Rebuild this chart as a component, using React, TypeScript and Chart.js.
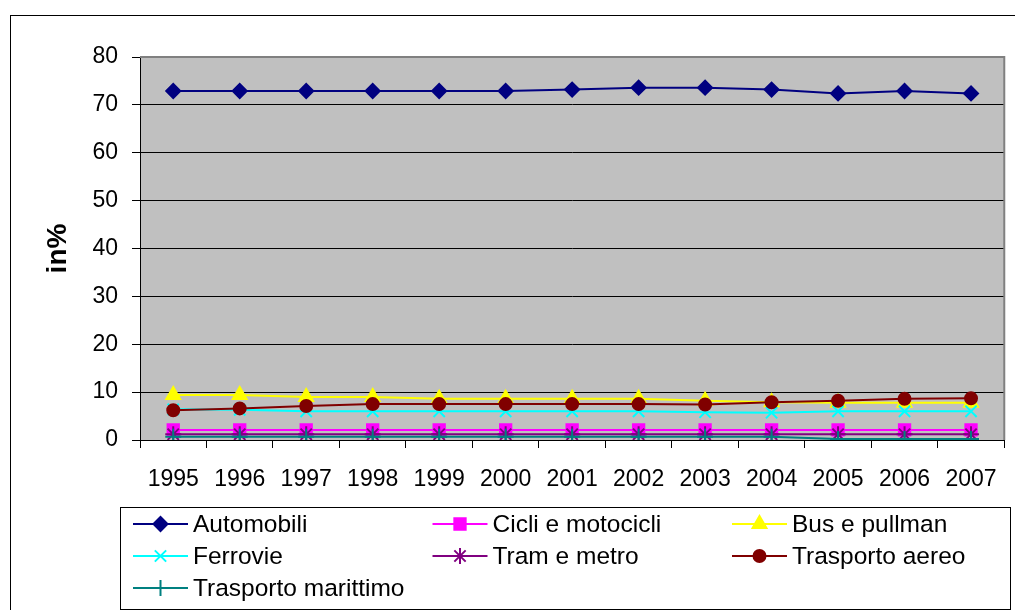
import React, { useEffect, useRef } from "react";
import { Chart, registerables } from "chart.js";
import { drawPoint } from "chart.js/helpers";

Chart.register(...registerables);

const years = ["1995", "1996", "1997", "1998", "1999", "2000", "2001", "2002", "2003", "2004", "2005", "2006", "2007"];
const automobili = [72.9, 72.9, 72.9, 72.9, 72.9, 72.9, 73.2, 73.6, 73.6, 73.2, 72.4, 72.9, 72.4];
const cicli = [2.1, 2.1, 2.1, 2.1, 2.1, 2.1, 2.1, 2.1, 2.1, 2.1, 2.1, 2.1, 2.1];
const bus = [9.4, 9.4, 9.0, 9.0, 8.6, 8.6, 8.6, 8.6, 8.2, 7.9, 7.8, 7.8, 7.8];
const ferrovie = [6.4, 6.3, 6.0, 6.0, 6.0, 6.0, 6.0, 6.0, 5.8, 5.7, 6.0, 6.0, 6.0];
const tram = [1.2, 1.2, 1.2, 1.2, 1.2, 1.2, 1.2, 1.2, 1.2, 1.2, 1.2, 1.2, 1.2];
const aereo = [6.2, 6.6, 7.1, 7.5, 7.5, 7.5, 7.5, 7.5, 7.4, 7.9, 8.2, 8.6, 8.7];
const marittimo = [0.7, 0.7, 0.7, 0.7, 0.7, 0.7, 0.7, 0.7, 0.7, 0.7, 0.2, 0.2, 0.2];

const seriesNames = ["Automobili", "Cicli e motocicli", "Bus e pullman", "Ferrovie", "Tram e metro", "Trasporto aereo", "Trasporto marittimo"];
const seriesValues = [automobili, cicli, bus, ferrovie, tram, aereo, marittimo];
const seriesColors = ["#000080", "#FF00FF", "#FFFF00", "#00FFFF", "#800080", "#800000", "#008080"];
const seriesMarkers = ["rectRot", "rect", "triangle", "crossRot", "star", "circle", "cross"];
const markerSizes = [7, 8, 8, 8, 8, 6, 8];
const yTicks = [0, 10, 20, 30, 40, 50, 60, 70, 80];
const yTitle = "in%";

const FONT = '"Liberation Sans", Arial, sans-serif';

const framePlugin = {
  id: "frame",
  beforeDraw(chart: any) {
    const { ctx, chartArea: a } = chart;
    ctx.save();
    ctx.fillStyle = "#ffffff";
    ctx.fillRect(0, 0, chart.width, chart.height);
    ctx.fillStyle = "#C0C0C0";
    ctx.fillRect(a.left, a.top, a.right - a.left, a.bottom - a.top);
    ctx.restore();
  },
  beforeDatasetsDraw(chart: any) {
    const { ctx, chartArea: a } = chart;
    ctx.save();
    ctx.strokeStyle = "#808080";
    ctx.lineWidth = 2;
    ctx.beginPath();
    ctx.moveTo(a.left, a.top);
    ctx.lineTo(a.right, a.top);
    ctx.lineTo(a.right, a.bottom);
    ctx.stroke();
    ctx.restore();
  },
  afterDraw(chart: any) {
    const { ctx } = chart;
    ctx.save();
    ctx.strokeStyle = "#000000";
    ctx.lineWidth = 1;
    ctx.strokeRect(10.5, 15.5, 1020, 610);
    // legend
    ctx.strokeRect(120.5, 507.5, 890, 102);
    chart.data.datasets.forEach((ds: any, i: number) => {
      const col = i % 3;
      const row = Math.floor(i / 3);
      const x0 = 133 + col * 299.5;
      const y = 524 + row * 32;
      ctx.strokeStyle = ds.borderColor;
      ctx.lineWidth = 2;
      ctx.beginPath();
      ctx.moveTo(x0, y);
      ctx.lineTo(x0 + 55, y);
      ctx.stroke();
      ctx.fillStyle = ds.pointBackgroundColor;
      ctx.strokeStyle = ds.pointBorderColor;
      ctx.lineWidth = ds.pointBorderWidth;
      drawPoint(ctx, { pointStyle: ds.pointStyle, radius: ds.pointRadius, borderWidth: ds.pointBorderWidth, rotation: 0 }, x0 + 27.5, y);
      ctx.fillStyle = "#000000";
      ctx.font = "24.5px " + FONT;
      ctx.textBaseline = "middle";
      ctx.textAlign = "left";
      ctx.fillText(ds.label, x0 + 60, y + 1);
    });
    ctx.restore();
  },
};

export default function App() {
  const ref = useRef<HTMLCanvasElement | null>(null);
  useEffect(() => {
    if (!ref.current) return;
    const datasets = seriesNames.map((name, i) => ({
      label: name,
      data: seriesValues[i],
      borderColor: seriesColors[i],
      backgroundColor: seriesColors[i],
      pointBackgroundColor: seriesColors[i],
      pointBorderColor: seriesColors[i],
      pointBorderWidth: 2,
      pointStyle: seriesMarkers[i],
      pointRadius: markerSizes[i],
      borderWidth: 2,
      tension: 0,
      fill: false,
      order: 20 - i,
    }));
    const chart = new Chart(ref.current, {
      type: "line",
      data: { labels: years, datasets },
      plugins: [framePlugin],
      options: {
        animation: false,
        responsive: false,
        devicePixelRatio: 1,
        layout: { padding: { top: 57, right: 7, bottom: 0, left: 0 } },
        plugins: { legend: { display: false }, tooltip: { enabled: false } },
        scales: {
          x: {
            offset: true,
            grid: { offset: true, drawOnChartArea: false, tickLength: 8, tickColor: "#000000", color: "#000000" },
            border: { color: "#000000", width: 1 },
            ticks: { color: "#000000", font: { family: FONT, size: 23 }, padding: 18, maxRotation: 0, autoSkip: false },
            afterFit: (s: any) => { s.height = 170; },
          },
          y: {
            min: 0,
            max: 80,
            afterBuildTicks: (s: any) => { s.ticks = yTicks.map((v) => ({ value: v })); },
            grid: {
              color: (c: any) => (c.tick && c.tick.value === 80 ? "rgba(0,0,0,0)" : "#000000"),
              tickColor: "#000000",
              tickLength: 8,
              lineWidth: 1,
            },
            border: { color: "#000000", width: 1 },
            ticks: { color: "#000000", font: { family: FONT, size: 23 }, padding: 14 },
            title: { display: true, text: yTitle, color: "#000000", font: { family: FONT, size: 28, weight: "bold" }, padding: { top: 41, bottom: 0 } },
            afterFit: (s: any) => { s.width = 140; },
          },
        },
      },
    });
    return () => chart.destroy();
  }, []);
  return (
    <div style={{ position: "absolute", left: 0, top: 0, width: 1015, height: 610, background: "#fff" }}>
      <canvas ref={ref} width={1015} height={610} style={{ display: "block" }} />
    </div>
  );
}
